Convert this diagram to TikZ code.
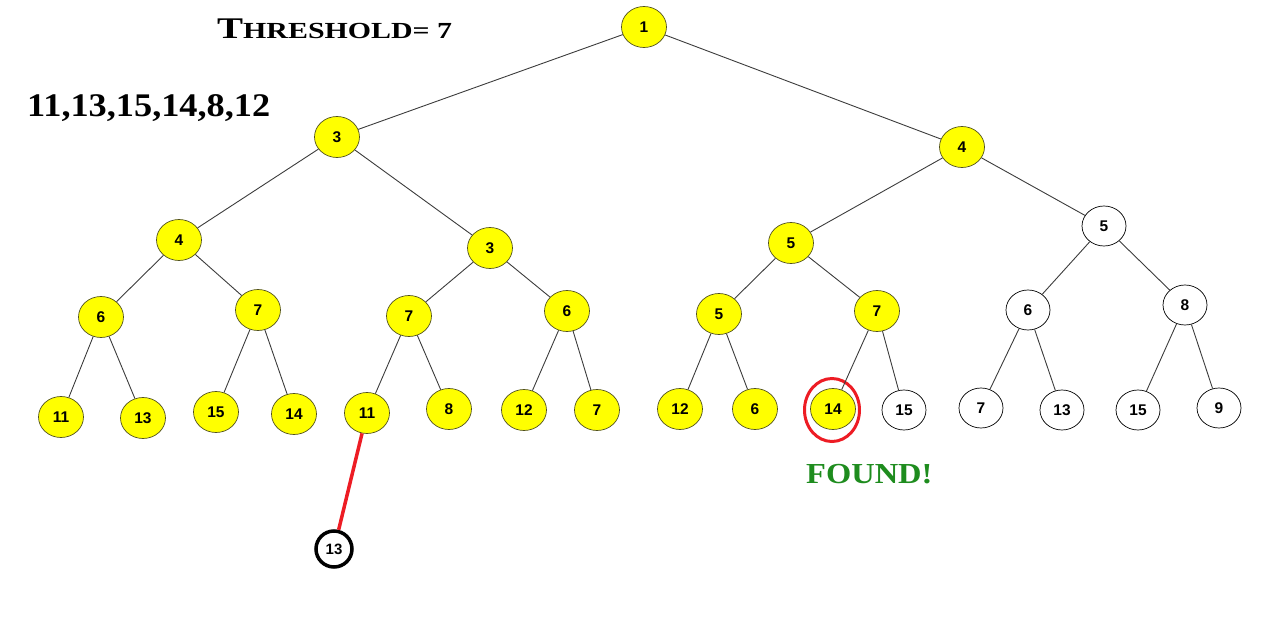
\documentclass[tikz,border=0pt]{standalone}
\usepackage{fontspec}
\usepackage{graphicx}
\setmainfont{Liberation Sans}
\newfontfamily\cop{Liberation Serif}
\usetikzlibrary{shapes.geometric}
\definecolor{nodeyellow}{RGB}{255,255,0}
\definecolor{nodeborder}{RGB}{80,80,30}
\definecolor{foundgreen}{RGB}{30,140,30}
\definecolor{edgegray}{RGB}{60,60,60}
\definecolor{paintred}{RGB}{237,28,36}
\tikzset{
  yn/.style={ellipse, draw=nodeborder, line width=0.7pt, fill=nodeyellow, minimum width=45pt, minimum height=41pt, inner sep=0pt, font=\fontsize{15.5}{15.5}\selectfont\bfseries},
  wn/.style={ellipse, draw=black, line width=0.7pt, fill=white, minimum width=44pt, minimum height=40pt, inner sep=0pt, font=\fontsize{15.5}{15.5}\selectfont\bfseries},
  bn/.style={circle, draw=black, line width=3.5pt, fill=white, minimum size=36pt, inner sep=0pt, font=\fontsize{15}{15}\selectfont\bfseries},
  edge/.style={draw=edgegray, line width=0.9pt},
  rededge/.style={draw=paintred, line width=3.5pt},
  ring/.style={ellipse, draw=paintred, line width=3pt, minimum width=55pt, minimum height=63pt, inner sep=0pt},
  title/.style={inner sep=0pt, anchor=base west}
}
\begin{document}
\begin{tikzpicture}[x=1pt,y=-1pt]
\path[use as bounding box] (0,0) rectangle (1262,623);
% level 0
\node[yn] (r) at (644,27) {1};
% level 1
\node[yn] (a) at (337,137) {3};
\node[yn] (b) at (962,147) {4};
% level 2
\node[yn] (aa) at (179,240) {4};
\node[yn] (ab) at (490,248) {3};
\node[yn] (ba) at (791,243) {5};
\node[wn] (bb) at (1104,226) {5};
% level 3
\node[yn] (aaa) at (101,317) {6};
\node[yn] (aab) at (258,310) {7};
\node[yn] (aba) at (409,316) {7};
\node[yn] (abb) at (567,311) {6};
\node[yn] (baa) at (719,314) {5};
\node[yn] (bab) at (877,311) {7};
\node[wn] (bba) at (1028,310) {6};
\node[wn] (bbb) at (1185,305) {8};
% level 4
\node[yn] (l1) at (61,417) {11};
\node[yn] (l2) at (143,418) {13};
\node[yn] (l3) at (216,412) {15};
\node[yn] (l4) at (294,414) {14};
\node[yn] (l5) at (367,413) {11};
\node[yn] (l6) at (449,409) {8};
\node[yn] (l7) at (524,410) {12};
\node[yn] (l8) at (597,410) {7};
\node[yn] (l9) at (680,409) {12};
\node[yn] (l10) at (755,409) {6};
\node[yn] (l11) at (833,409) {14};
\node[wn] (l12) at (904,410) {15};
\node[wn] (l13) at (981,408) {7};
\node[wn] (l14) at (1062,410) {13};
\node[wn] (l15) at (1138,410) {15};
\node[wn] (l16) at (1219,408) {9};
% extra node
\node[bn] (x) at (334,549) {13};
% ring
\node[ring] (found) at (832,410) {};
% edges
\draw[edge] (r) -- (a);
\draw[edge] (r) -- (b);
\draw[edge] (a) -- (aa);
\draw[edge] (a) -- (ab);
\draw[edge] (b) -- (ba);
\draw[edge] (b) -- (bb);
\draw[edge] (aa) -- (aaa);
\draw[edge] (aa) -- (aab);
\draw[edge] (ab) -- (aba);
\draw[edge] (ab) -- (abb);
\draw[edge] (ba) -- (baa);
\draw[edge] (ba) -- (bab);
\draw[edge] (bb) -- (bba);
\draw[edge] (bb) -- (bbb);
\draw[edge] (aaa) -- (l1);
\draw[edge] (aaa) -- (l2);
\draw[edge] (aab) -- (l3);
\draw[edge] (aab) -- (l4);
\draw[edge] (aba) -- (l5);
\draw[edge] (aba) -- (l6);
\draw[edge] (abb) -- (l7);
\draw[edge] (abb) -- (l8);
\draw[edge] (baa) -- (l9);
\draw[edge] (baa) -- (l10);
\draw[edge] (bab) -- (l11);
\draw[edge] (bab) -- (l12);
\draw[edge] (bba) -- (l13);
\draw[edge] (bba) -- (l14);
\draw[edge] (bbb) -- (l15);
\draw[edge] (bbb) -- (l16);
\draw[rededge] (l5) -- (x);
% texts
\node[title] (thr) at (217,39) {\scalebox{1.3}[1]{\cop\bfseries\fontsize{30}{30}\selectfont T\fontsize{23}{23}\selectfont HRESHOLD= 7}};
\node[title] (lst) at (27,117) {\scalebox{1.1}[1]{\cop\bfseries\fontsize{33}{33}\selectfont 11,13,15,14,8,12}};
\node[title, text=foundgreen] (fnd) at (806,483) {\scalebox{1.12}[1]{\cop\bfseries\fontsize{29}{29}\selectfont FOUND!}};
\end{tikzpicture}
\end{document}
